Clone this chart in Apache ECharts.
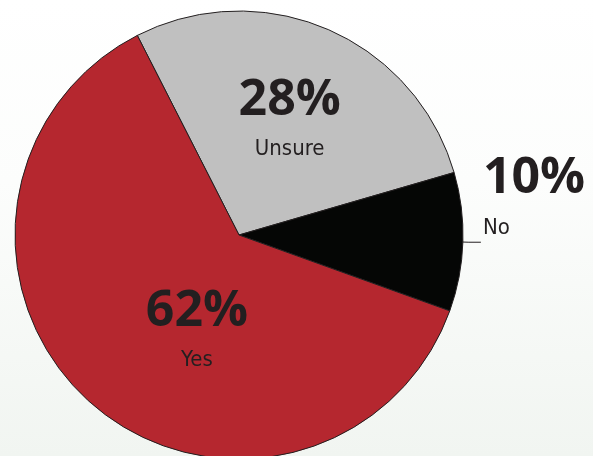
<!DOCTYPE html>
<html>
<head>
<meta charset="utf-8">
<script src="https://cdn.jsdelivr.net/npm/echarts@6/dist/echarts.min.js"></script>
<style>html,body{margin:0;padding:0;background:#fff}#c{width:593px;height:456px}</style>
</head>
<body>
<div id="c"></div>
<script>
var categories = ['Unsure', 'No', 'Yes'];
var values = [28, 10, 62];
var colors = ['#c0c0c0', '#050605', '#b5272f'];

var chart = echarts.init(document.getElementById('c'), null, {renderer: 'canvas'});
var rich = {
  p: {fontSize: 50, fontWeight: 'bold', fontFamily: '"Open Sans", "Noto Sans", sans-serif', color: '#231f20', lineHeight: 58},
  n: {fontSize: 22, fontFamily: '"DejaVu Sans Condensed", "Liberation Sans Narrow", sans-serif', color: '#231f20', lineHeight: 40}
};
var offsets = [{dx: 5, dy: -9}, {dx: 0, dy: 0}, {dx: 34, dy: 10}];
var data = categories.map(function (c, i) {
  var item = {name: c, value: values[i], itemStyle: {color: colors[i]}};
  if (c === 'No') {
    item.label = {position: 'outside', align: 'left', padding: [0, 0, 86, 0], distanceToLabelLine: 2};
    item.labelLine = {show: true, length: 6, length2: 12, lineStyle: {color: '#231f20', width: 1}};
  } else {
    item.label = {position: 'inside'};
    item.labelLine = {show: false};
  }
  return item;
});
chart.setOption({
  backgroundColor: {type: 'linear', x: 0, y: 0, x2: 0, y2: 1, colorStops: [
    {offset: 0, color: '#ffffff'}, {offset: 0.4, color: '#fcfdfc'}, {offset: 1, color: '#f1f5f1'}]},
  animation: false,
  series: [{
    type: 'pie',
    center: [239, 235],
    radius: 224,
    startAngle: 117,
    clockwise: true,
    avoidLabelOverlap: false,
    itemStyle: {borderColor: '#231f20', borderWidth: 1},
    label: {
      show: true,
      formatter: function (p) { return '{p|' + p.value + '%}\n{n|' + p.name + '}'; },
      rich: rich,
      align: 'center'
    },
    labelLayout: function (p) {
      var o = offsets[p.dataIndex];
      if (categories[p.dataIndex] === 'No') return {};
      return {dx: o.dx, dy: o.dy};
    },
    emphasis: {disabled: true},
    data: data
  }]
});
</script>
</body>
</html>
